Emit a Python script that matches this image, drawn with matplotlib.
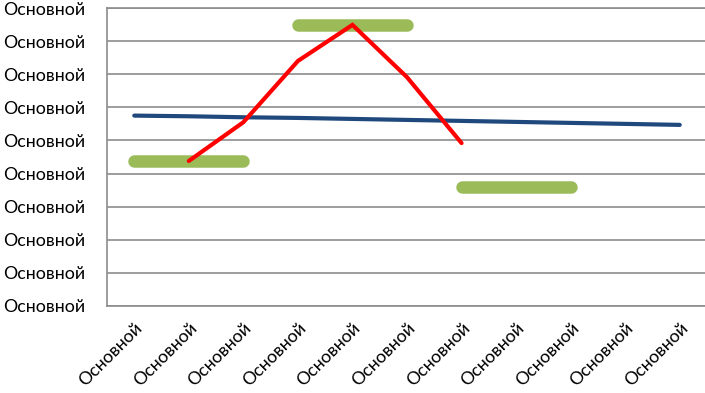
import matplotlib
matplotlib.use("Agg")
import matplotlib.pyplot as plt
import numpy as np

categories = ["Основной"] * 11
y_tick_labels = ["Основной"] * 10
blue_values = [5.75, 5.73, 5.70, 5.68, 5.65, 5.62, 5.59, 5.56, 5.53, 5.50, 5.47]
red_values = [np.nan, 4.38, 5.55, 7.40, 8.49, 6.91, 4.92, np.nan, np.nan, np.nan, np.nan]
green_a = [4.38, 4.38, 4.38, np.nan, np.nan, np.nan, np.nan, np.nan, np.nan, np.nan, np.nan]
green_b = [np.nan, np.nan, np.nan, 8.49, 8.49, 8.49, np.nan, np.nan, np.nan, np.nan, np.nan]
green_c = [np.nan, np.nan, np.nan, np.nan, np.nan, np.nan, 3.59, 3.59, 3.59, np.nan, np.nan]

plt.rcParams['font.family'] = ['Lato', 'DejaVu Sans']

fig = plt.figure(figsize=(7.05, 3.93), dpi=100)
ax = fig.add_axes([107/705, 1-306/393, 600/705, 298/393])
x = np.arange(len(categories))

grid_color = "#8c8c8c"
for g in (green_a, green_b, green_c):
    ax.plot(x, g, color="#9BBB59", lw=9, solid_capstyle="round", zorder=3)
ax.plot(x, blue_values, color="#1F497D", lw=3, solid_capstyle="round", zorder=4)
ax.plot(x, red_values, color="#FF0000", lw=3, solid_capstyle="round", solid_joinstyle="miter", zorder=5)

ax.set_xlim(-0.5, len(categories) - 0.5)
ax.set_ylim(0, 9)
ax.set_yticks(range(10))
ax.set_yticklabels(y_tick_labels, fontsize=12.8)
ax.set_xticks(x)
ax.set_xticklabels(categories, fontsize=12.8, rotation=45, ha="right", rotation_mode="anchor")
ax.tick_params(axis="both", length=0)
ax.tick_params(axis="y", pad=16)
ax.tick_params(axis="x", pad=10)
ax.yaxis.grid(True, color=grid_color, lw=1.2)
ax.set_axisbelow(True)
ax.spines["right"].set_visible(False)
for s in ("left", "bottom", "top"):
    ax.spines[s].set_color(grid_color)
    ax.spines[s].set_linewidth(1.2)

fig.savefig("out.png", dpi=100)
